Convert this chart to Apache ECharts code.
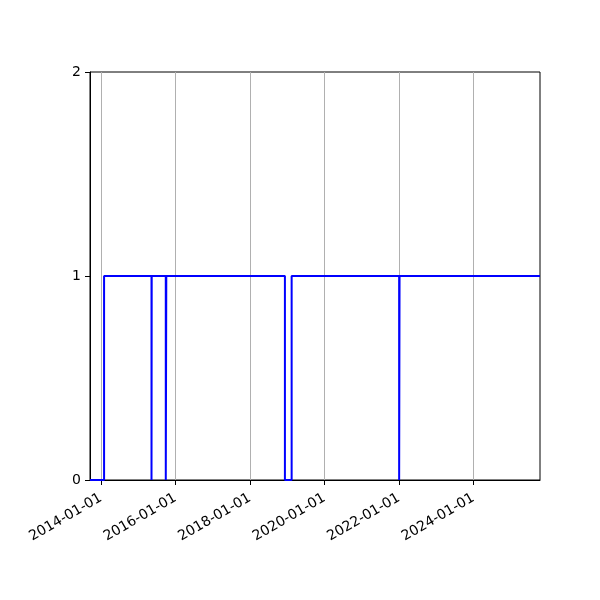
<!DOCTYPE html>
<html>
<head>
<meta charset="utf-8">
<script src="https://cdn.jsdelivr.net/npm/echarts@6/dist/echarts.min.js"></script>
<style>html,body{margin:0;padding:0;background:#fff}#c{width:600px;height:600px}</style>
</head>
<body>
<div id="c"></div>
<script>
// Change points of the step series (value holds until next date)
var dates = ['2013-09-16','2014-02-01','2015-05-12','2015-05-14','2015-09-29','2015-10-04','2018-12-10','2019-02-14','2022-01-03','2022-01-07','2025-10-15'];
var values = [0,1,0,1,0,1,0,1,0,1,1];
var xTicks = ['2014-01-01','2016-01-01','2018-01-01','2020-01-01','2022-01-01','2024-01-01'];
var yTicks = [0,1,2];
var xMin = '2013-09-16', xMax = '2025-10-15';

function ts(s){ return new Date(s + 'T00:00:00Z').getTime(); }
var data = dates.map(function(d,i){ return [ts(d), values[i]]; });
var tickTs = xTicks.map(ts);
function fmt(v){
  var d = new Date(v);
  var p = function(n){ return (n<10?'0':'')+n; };
  return d.getUTCFullYear()+'-'+p(d.getUTCMonth()+1)+'-'+p(d.getUTCDate());
}
var chart = echarts.init(document.getElementById('c'), null, {renderer:'canvas'});
chart.setOption({
  animation:false,
  grid:{left:90,right:60,top:72,bottom:120,show:true,borderColor:'#000',borderWidth:1,backgroundColor:'transparent'},
  xAxis:{
    type:'value', min:ts(xMin), max:ts(xMax), scale:true,
    axisLine:{show:true,lineStyle:{color:'#000',width:1}},
    axisTick:{show:true,inside:false,length:5,lineStyle:{color:'#000'},customValues:tickTs},
    axisLabel:{rotate:30,margin:17,color:'#000',fontFamily:'DejaVu Sans',fontSize:14,customValues:tickTs,formatter:function(v){return fmt(v);}},
    splitLine:{show:false}
  },
  yAxis:{
    type:'value', min:yTicks[0], max:yTicks[yTicks.length-1], interval:1,
    axisLine:{show:true,lineStyle:{color:'#000',width:1}},
    axisTick:{show:true,length:5,lineStyle:{color:'#000'}},
    axisLabel:{color:'#000',fontFamily:'DejaVu Sans',fontSize:14,margin:9},
    splitLine:{show:false}
  },
  series:[{
    type:'line', step:'end', data:data, showSymbol:false, symbol:'none',
    lineStyle:{color:'#0000ff',width:2}, z:3,
    markLine:{silent:true,symbol:'none',label:{show:false},
      lineStyle:{color:'#b0b0b0',width:1,type:'solid'},
      data:tickTs.map(function(t){return {xAxis:t};}), z:1}
  }]
});
</script>
</body>
</html>
